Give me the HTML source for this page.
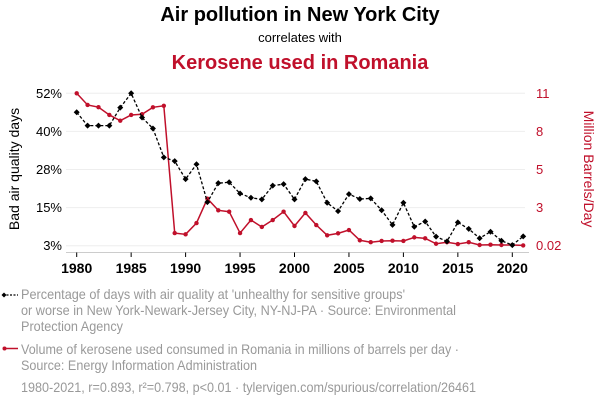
<!DOCTYPE html>
<html><head><meta charset="utf-8"><style>
body{margin:0;width:600px;height:408px;background:#fff;font-family:"Liberation Sans",sans-serif;overflow:hidden}
svg{position:absolute;left:0;top:0}
</style></head><body>
<svg width="600" height="408">
<g id="grid"></g><g id="axes"></g><g id="series"></g>
<text x="300" y="21" text-anchor="middle" font-size="20" font-weight="bold" fill="#000">Air pollution in New York City</text>
<text x="300" y="42" text-anchor="middle" font-size="13" fill="#000">correlates with</text>
<text x="300" y="69" text-anchor="middle" font-size="20" font-weight="bold" fill="#c0102b">Kerosene used in Romania</text>
<text transform="translate(19,169) rotate(-90)" text-anchor="middle" font-size="14" fill="#000">Bad air quality days</text>
<text transform="translate(584,169) rotate(90)" text-anchor="middle" font-size="14" fill="#c0102b">Million Barrels/Day</text>
<g>
<line x1="3" y1="295" x2="18" y2="295" stroke="#000" stroke-width="1.2" stroke-dasharray="2,1.5"/>
<path d="M4,292.5 L6.5,295 L4,297.5 L1.5,295Z" fill="#000"/>
<text font-size="14" fill="#999"><tspan x="21" y="299" textLength="384" lengthAdjust="spacingAndGlyphs">Percentage of days with air quality at 'unhealthy for sensitive groups'</tspan><tspan x="21" y="315" textLength="435" lengthAdjust="spacingAndGlyphs">or worse in New York-Newark-Jersey City, NY-NJ-PA · Source: Environmental</tspan><tspan x="21" y="331" textLength="102" lengthAdjust="spacingAndGlyphs">Protection Agency</tspan></text>
</g>
<g>
<line x1="3" y1="348.5" x2="18" y2="348.5" stroke="#c0102b" stroke-width="1.5"/>
<circle cx="4.5" cy="348.5" r="2" fill="#c0102b"/>
<text font-size="14" fill="#999"><tspan x="21" y="354" textLength="438" lengthAdjust="spacingAndGlyphs">Volume of kerosene used consumed in Romania in millions of barrels per day ·</tspan><tspan x="21" y="370" textLength="236" lengthAdjust="spacingAndGlyphs">Source: Energy Information Administration</tspan></text>
</g>
<text x="21" y="392" font-size="14" fill="#999" textLength="455" lengthAdjust="spacingAndGlyphs">1980-2021, r=0.893, r²=0.798, p&lt;0.01 · tylervigen.com/spurious/correlation/26461</text>
</svg>
<script>
const years=[];for(let y=1980;y<=2021;y++)years.push(y);
const airValues=[45.9,41.6,41.6,41.6,47.4,52,44.2,40.7,31.4,30.2,24.4,29.2,17.0,23.1,23.4,19.8,18.4,17.9,22.3,22.8,17.9,24.4,23.7,16.8,14.1,19.6,18.0,18.2,14.4,9.7,16.8,9.1,10.8,5.9,4.4,10.5,8.4,5.4,7.5,4.6,3.2,6.0];
const keroseneValues=[11,10.16,10.0,9.44,9.03,9.44,9.49,9.99,10.1,0.93,0.84,1.65,3.41,2.57,2.47,0.93,1.87,1.37,1.87,2.47,1.44,2.38,1.51,0.77,0.91,1.15,0.41,0.27,0.36,0.38,0.36,0.62,0.55,0.16,0.27,0.14,0.27,0.07,0.09,0.07,0.07,0.04];
const xTicks=[1980,1985,1990,1995,2000,2005,2010,2015,2020];
const leftTickLabels=["52%","40%","28%","15%","3%"];
const rightTickLabels=["11","8","5","3","0.02"];
const NS="http://www.w3.org/2000/svg";
const X0=76.7,X1=512.3,YT=93.3,YB=245.7;
const x=y=>X0+(y-1980)*(X1-X0)/40;
const yL=v=>YB-(v-3)/(52-3)*(YB-YT);
const yR=v=>YB-(v-0.02)/(11-0.02)*(YB-YT);
function mk(tag,attrs,parent){const e=document.createElementNS(NS,tag);for(const k in attrs)e.setAttribute(k,attrs[k]);parent.appendChild(e);return e;}
const grid=document.getElementById('grid'),axes=document.getElementById('axes'),ser=document.getElementById('series');
leftTickLabels.forEach((l,i)=>{
 const gy=YT+i*(YB-YT)/4;
 const g=mk('line',{x1:66,x2:525,y1:gy,y2:gy,stroke:'#eee','stroke-width':1},grid);
 
 
 const t=mk('text',{x:62,y:gy+4.5,'text-anchor':'end','font-size':13,fill:'#000'},axes);t.textContent=l;
 
 
 const r=mk('text',{x:536,y:gy+4.5,'font-size':13,fill:'#c0102b'},axes);r.textContent=rightTickLabels[i];
 
 
});
mk('line',{x1:66,x2:529,y1:252.5,y2:252.5,stroke:'#ccc','stroke-width':1},axes);
xTicks.forEach(v=>{
 mk('line',{x1:x(v),x2:x(v),y1:252.5,y2:257,stroke:'#000'},axes);
 const t=mk('text',{x:x(v),y:273,'text-anchor':'middle','font-size':14,'font-weight':'bold',fill:'#000'},axes);t.textContent=v;
 
 
});
const rp=keroseneValues.map((v,i)=>x(years[i])+','+yR(v)).join(' ');
const rl=mk('polyline',{points:rp,fill:'none',stroke:'#c0102b','stroke-width':1.5},ser);


keroseneValues.forEach((v,i)=>{const c=mk('circle',{cx:x(years[i]),cy:yR(v),r:2.2,fill:'#c0102b'},ser);
 
 });
const bp=airValues.map((v,i)=>x(years[i])+','+yL(v)).join(' ');
const bl=mk('polyline',{points:bp,fill:'none',stroke:'#000','stroke-width':1.3,'stroke-dasharray':'3,2'},ser);


airValues.forEach((v,i)=>{const cx=x(years[i]),cy=yL(v);
 const p=mk('path',{d:`M${cx},${cy-3}L${cx+3},${cy}L${cx},${cy+3}L${cx-3},${cy}Z`,fill:'#000'},ser);
 
 });
</script>
</body></html>
